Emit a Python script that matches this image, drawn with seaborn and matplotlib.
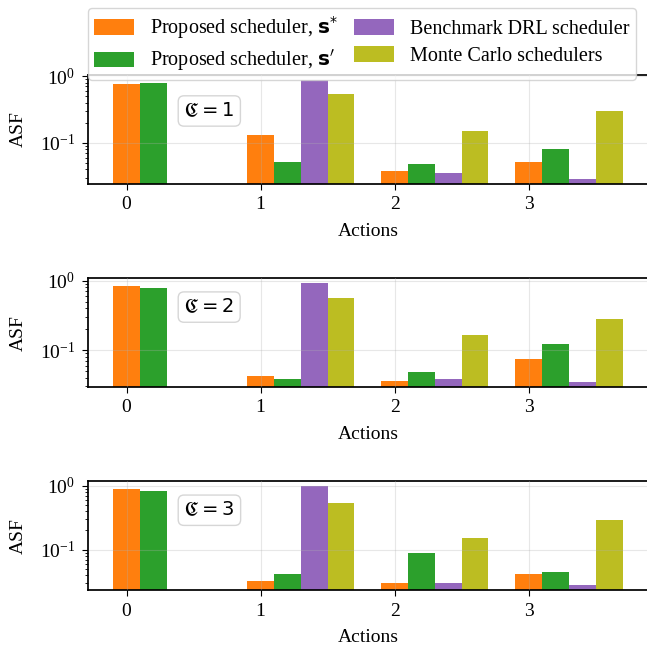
import numpy as np
import pandas as pd
import matplotlib
matplotlib.use("Agg")
import matplotlib.pyplot as plt
import seaborn as sns

# ---- data (NaN = no bar drawn) ----
actions = [0, 1, 2, 3]
schedulers = [r"Proposed scheduler, $\mathbf{s}^{*}$",
              r"Proposed scheduler, $\mathbf{s}'$",
              "Benchmark DRL scheduler",
              "Monte Carlo schedulers"]
colors = ["#ff7f0e", "#2ca02c", "#9467bd", "#bcbd22"]

# C = 1
c1_star = [0.75, 0.129, 0.0383, 0.0524]
c1_prime = [0.80, 0.0524, 0.0488, 0.082]
c1_drl = [np.nan, 0.87, 0.0357, 0.029]
c1_mc = [np.nan, 0.536, 0.153, 0.296]

# C = 2
c2_star = [0.83, 0.0425, 0.0365, 0.0744]
c2_prime = [0.77, 0.0389, 0.049, 0.122]
c2_drl = [np.nan, 0.916, 0.0389, 0.0349]
c2_mc = [np.nan, 0.553, 0.164, 0.277]

# C = 3
c3_star = [0.90, 0.0322, 0.030, 0.0412]
c3_prime = [0.84, 0.0412, 0.090, 0.0443]
c3_drl = [np.nan, 0.977, 0.030, 0.0279]
c3_mc = [np.nan, 0.547, 0.153, 0.29]

panels = {
    1: [c1_star, c1_prime, c1_drl, c1_mc],
    2: [c2_star, c2_prime, c2_drl, c2_mc],
    3: [c3_star, c3_prime, c3_drl, c3_mc],
}
# vertical spot of the C-label box in each panel (axes fraction)
label_y = [0.67, 0.735, 0.735]


def to_long(series):
    rows = []
    for name, vals in zip(schedulers, series):
        for a, v in zip(actions, vals):
            if not np.isnan(v):
                rows.append({"Actions": a, "ASF": v, "Scheduler": name})
    return pd.DataFrame(rows)


plt.rcParams["font.family"] = ["Liberation Serif", "DejaVu Sans"]
plt.rcParams["font.size"] = 14
plt.rcParams["axes.linewidth"] = 1.25
plt.rcParams["xtick.major.size"] = 4.5
plt.rcParams["ytick.major.size"] = 4.5
plt.rcParams["xtick.major.pad"] = 4.5
plt.rcParams["ytick.major.pad"] = 4.5

fig, axes = plt.subplots(3, 1, figsize=(6.47, 6.48), dpi=100)
fig.subplots_adjust(left=0.1355, right=1.0015, top=0.884, bottom=0.0895, hspace=0.872)

for i, (c, series) in enumerate(panels.items()):
    ax = axes[i]
    ax.set_yscale("log")
    df = to_long(series)
    sns.barplot(data=df, x="Actions", y="ASF", hue="Scheduler", order=actions,
                hue_order=schedulers, palette=colors, saturation=1, width=0.8,
                linewidth=0, ax=ax, legend=(i == 0))
    ax.set_xticks(np.arange(len(actions)) - 0.3)
    ax.set_xticklabels([str(a) for a in actions])
    ax.set_xlim(-0.59, 3.59)
    ax.grid(True, alpha=0.3)
    ax.set_axisbelow(False)
    ax.set_xlabel("Actions", labelpad=7)
    ax.set_ylabel("ASF", labelpad=9)
    ax.text(0.172, label_y[i], r"$\mathfrak{C} = %d$" % c, transform=ax.transAxes,
            fontsize=14, ha="left", va="center",
            bbox=dict(boxstyle="round", facecolor="white", edgecolor="0.8", alpha=0.8))

axes[0].legend(loc="lower left", bbox_to_anchor=(0.0, 0.96), borderaxespad=0,
               ncol=2, fontsize=14.5, framealpha=0.8, columnspacing=0.8,
               labelspacing=0.35, borderpad=0.3, handleheight=0.8)

fig.savefig("out.png", dpi=100)
